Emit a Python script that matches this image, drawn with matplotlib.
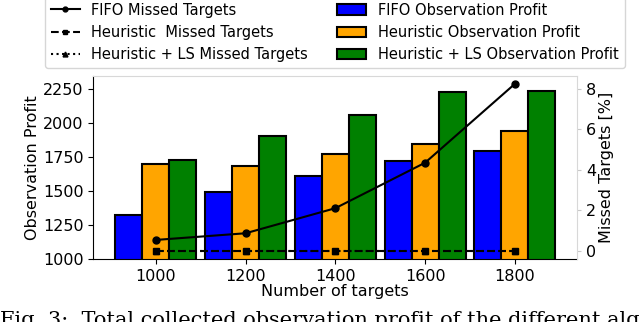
import numpy as np
import matplotlib.pyplot as plt
from matplotlib.ticker import MultipleLocator

targets = [1000, 1200, 1400, 1600, 1800]

fifo_profit = [1327, 1490, 1615, 1720, 1797]
heur_profit = [1697, 1685, 1775, 1845, 1945]
heur_ls_profit = [1729, 1905, 2060, 2230, 2240]

fifo_missed = [0.53, 0.86, 2.1, 4.35, 8.25]
heur_missed = [0, 0, 0, 0, 0]
heur_ls_missed = [0, 0, 0, 0, 0]

plt.rcParams['font.size'] = 11.5

fig = plt.figure(figsize=(6.4, 3.22), dpi=100)
ax1 = fig.add_axes([0.146, 0.1957, 0.756, 0.5698])
ax2 = ax1.twinx()

x = np.array(targets)
w = 60
b1 = ax1.bar(x - w, fifo_profit, w, color='blue', edgecolor='black', linewidth=1.5,
             label='FIFO Observation Profit')
b2 = ax1.bar(x, heur_profit, w, color='orange', edgecolor='black', linewidth=1.5,
             label='Heuristic Observation Profit')
b3 = ax1.bar(x + w, heur_ls_profit, w, color='green', edgecolor='black', linewidth=1.5,
             label='Heuristic + LS Observation Profit')
ax1.set_ylim(1000, 2352)
ax1.yaxis.set_major_locator(MultipleLocator(250))
ax1.set_xticks(targets)
ax1.set_xlabel('Number of targets', fontsize=11.5, labelpad=0)
ax1.set_ylabel('Observation Profit', fontsize=11.5, labelpad=2)

l3, = ax2.plot(x, heur_ls_missed, ':^', color='black', markersize=5,
               label='Heuristic + LS Missed Targets')
l2, = ax2.plot(x, heur_missed, '--s', color='black', markersize=5,
               label='Heuristic  Missed Targets')
l1, = ax2.plot(x, fifo_missed, '-o', color='black', markersize=5,
               label='FIFO Missed Targets')
ax2.yaxis.set_major_locator(MultipleLocator(2))
ax2.set_ylabel('Missed Targets [%]', fontsize=11.5, labelpad=2)
ax2.tick_params(axis='y', color='#c8c8c8', length=3)

for sp in ['top', 'right']:
    ax1.spines[sp].set_visible(False)
    ax2.spines[sp].set_color('#d8d8d8')
ax2.spines['left'].set_visible(False)
ax2.spines['bottom'].set_visible(False)

handles = [l1, l2, l3, b1, b2, b3]
fig.legend(handles, [h.get_label() for h in handles], ncol=2, fontsize=10.5,
           loc='lower center', bbox_to_anchor=(0.523, 0.789), borderaxespad=0,
           handlelength=2, columnspacing=2, markerscale=0.7)

# caption of the paper figure, cut by the bottom edge as in the screenshot
fig.text(0.0, -0.025, 'Fig. 3:  Total collected observation profit of the different algorithms',
         family='serif', fontsize=15, ha='left', va='bottom')

fig.savefig('out.png', dpi=100)
